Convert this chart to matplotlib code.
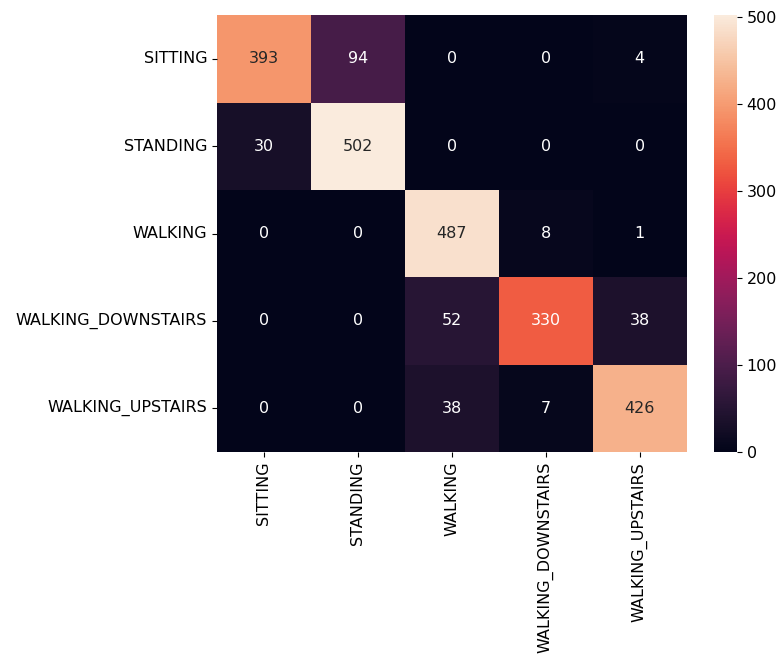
import numpy as np
import matplotlib
matplotlib.use('Agg')
import matplotlib.pyplot as plt
import seaborn as sns

labels = ['SITTING', 'STANDING', 'WALKING', 'WALKING_DOWNSTAIRS', 'WALKING_UPSTAIRS']
sitting = [393, 94, 0, 0, 4]
standing = [30, 502, 0, 0, 0]
walking = [0, 0, 487, 8, 1]
walking_down = [0, 0, 52, 330, 38]
walking_up = [0, 0, 38, 7, 426]

cm = np.array([sitting, standing, walking, walking_down, walking_up])

plt.rcParams['font.size'] = 11.5

fig = plt.figure(figsize=(7.83, 6.59), dpi=100)
ax = fig.add_axes([0.277, 0.314, 0.600, 0.663])
cax = fig.add_axes([0.912, 0.314, 0.029, 0.663])

sns.heatmap(cm, annot=True, fmt='d', xticklabels=labels, yticklabels=labels,
            ax=ax, cbar_ax=cax, annot_kws={'size': 11.5})
ax.set_yticklabels(labels, rotation=0)
ax.set_xticklabels(labels, rotation=90)

plt.savefig('out.png', dpi=100)
